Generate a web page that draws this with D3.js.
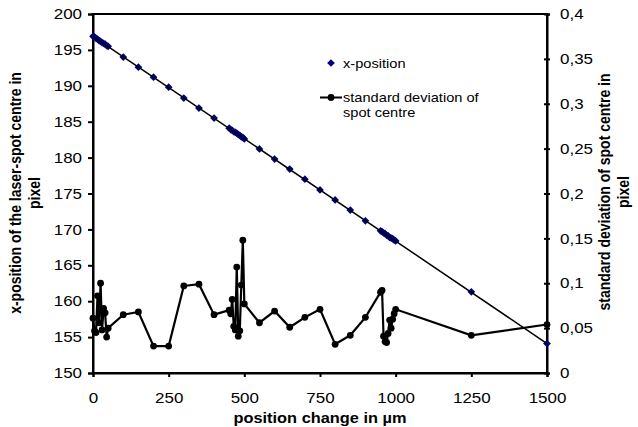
<!DOCTYPE html>
<html>
<head>
<meta charset="utf-8">
<script src="https://cdn.jsdelivr.net/npm/d3@7"></script>
<style>
  body { margin: 0; background: #fff; }
  svg { display: block; font-family: "Liberation Sans", Arial, sans-serif; }
</style>
</head>
<body>
<svg id="chart" width="638" height="427"></svg>
<script>
// position change in µm
const positions = [0, 5, 10, 15, 20, 25, 30, 35, 40, 45, 50, 100, 150, 200, 250, 300, 350, 400,
  450, 455, 460, 465, 470, 475, 480, 485, 490, 495, 500, 550, 600, 650, 700, 750, 800, 850, 900,
  950, 955, 960, 965, 970, 975, 980, 985, 990, 995, 1000, 1250, 1500];

// x-position of the laser-spot centre (left axis, pixel)
const xPosition = [196.9, 196.8, 196.6, 196.5, 196.3, 196.2, 196.0, 195.9, 195.8, 195.6, 195.5,
  194.0, 192.6, 191.2, 189.8, 188.3, 186.9, 185.5,
  184.1, 183.9, 183.8, 183.6, 183.5, 183.4, 183.2, 183.1, 182.9, 182.8, 182.6,
  181.2, 179.8, 178.4, 177.0, 175.5, 174.1, 172.7, 171.2,
  169.8, 169.7, 169.5, 169.4, 169.2, 169.1, 168.9, 168.8, 168.7, 168.5, 168.4, 161.3, 154.1];

// standard deviation of spot centre (right axis, pixel)
const stdDev = [0.061, 0.047, 0.045, 0.086, 0.056, 0.100, 0.048, 0.072, 0.067, 0.040, 0.050,
  0.065, 0.068, 0.030, 0.030, 0.097, 0.099, 0.065,
  0.070, 0.066, 0.082, 0.052, 0.048, 0.118, 0.041, 0.047, 0.098, 0.148, 0.077,
  0.056, 0.069, 0.051, 0.062, 0.071, 0.032, 0.042, 0.062,
  0.090, 0.092, 0.041, 0.035, 0.034, 0.044, 0.059, 0.050, 0.060, 0.066, 0.071, 0.042, 0.054];

// linear trendline through the x-position points
const trendX = [0, 1500];
const trendY = [196.9, 154.1];

const xTicks = [0, 250, 500, 750, 1000, 1250, 1500];
const leftTicks = [150, 155, 160, 165, 170, 175, 180, 185, 190, 195, 200];
const rightTicks = [0, 0.05, 0.1, 0.15, 0.2, 0.25, 0.3, 0.35, 0.4];
const rightTickLabels = ["0", "0,05", "0,1", "0,15", "0,2", "0,25", "0,3", "0,35", "0,4"];

const svg = d3.select("#chart");
const margin = { top: 14, right: 91, bottom: 54, left: 93 };
const width = +svg.attr("width") - margin.left - margin.right;
const height = +svg.attr("height") - margin.top - margin.bottom;
const SX = 1.17; // the original picture is a bit wider than tall

const x = d3.scaleLinear().domain([0, 1500]).range([margin.left, margin.left + width]);
const yL = d3.scaleLinear().domain([150, 200]).range([margin.top + height, margin.top]);
const yR = d3.scaleLinear().domain([0, 0.4]).range([margin.top + height, margin.top]);

// stretch horizontal text a little, like the source image
function stretch(sel) {
    sel.each(function () {
        const t = d3.select(this);
        const tx = +t.attr("x") || 0, ty = +t.attr("y") || 0;
        t.attr("x", 0).attr("y", 0).attr("transform", `translate(${tx},${ty}) scale(${SX},1)`);
    });
}

// frame
svg.append("rect")
    .attr("x", margin.left).attr("y", margin.top)
    .attr("width", width).attr("height", height)
    .attr("fill", "none").attr("stroke", "#000").attr("stroke-width", 2);

// axes
const gx = svg.append("g")
    .attr("transform", `translate(0,${margin.top + height})`)
    .call(d3.axisBottom(x).tickValues(xTicks).tickSize(4).tickPadding(16).tickFormat(d3.format("d")));

const gl = svg.append("g")
    .attr("transform", `translate(${margin.left},0)`)
    .call(d3.axisLeft(yL).tickValues(leftTicks).tickSize(5).tickPadding(6).tickFormat(d3.format("d")));

const gr = svg.append("g")
    .attr("transform", `translate(${margin.left + width},0)`)
    .call(d3.axisRight(yR).tickValues(rightTicks).tickSize(3).tickPadding(10)
        .tickFormat((d, i) => rightTickLabels[i]));
gr.selectAll(".tick line").attr("x1", -3);

[gx, gl, gr].forEach(g => {
    g.select(".domain").attr("stroke-width", 2);
    g.selectAll(".tick line").attr("stroke-width", 2);
    g.selectAll("text").attr("font-size", 14.5).attr("fill", "#000")
        .style("font-family", "'Liberation Sans', Arial, sans-serif");
    stretch(g.selectAll("text"));
});

// x-position diamonds
svg.append("g").selectAll("path")
    .data(positions)
    .join("path")
    .attr("d", d3.symbol(d3.symbolSquare, 30))
    .attr("transform", (d, i) => `translate(${x(d)},${yL(xPosition[i])}) rotate(45)`)
    .attr("fill", "#000080");

// trendline
svg.append("line")
    .attr("x1", x(trendX[0])).attr("y1", yL(trendY[0]))
    .attr("x2", x(trendX[1])).attr("y2", yL(trendY[1]))
    .attr("stroke", "#000").attr("stroke-width", 1.5);

// standard deviation line + markers
const line = d3.line().x((d, i) => x(positions[i])).y(d => yR(d));
svg.append("path")
    .datum(stdDev)
    .attr("d", line)
    .attr("fill", "none").attr("stroke", "#000").attr("stroke-width", 2.2);

svg.append("g").selectAll("circle")
    .data(stdDev)
    .join("circle")
    .attr("cx", (d, i) => x(positions[i]))
    .attr("cy", d => yR(d))
    .attr("r", 3.4)
    .attr("fill", "#000");

// legend
const legend = svg.append("g");
legend.append("path")
    .attr("d", d3.symbol(d3.symbolSquare, 30))
    .attr("transform", "translate(331,63) rotate(45)")
    .attr("fill", "#000080");
legend.append("text").attr("x", 343).attr("y", 67.5).text("x-position");
legend.append("line")
    .attr("x1", 320).attr("x2", 342).attr("y1", 97.5).attr("y2", 97.5)
    .attr("stroke", "#000").attr("stroke-width", 2);
legend.append("circle").attr("cx", 331).attr("cy", 97.5).attr("r", 3.4).attr("fill", "#000");
legend.append("text").attr("x", 343).attr("y", 102).text("standard deviation of");
legend.append("text").attr("x", 343).attr("y", 117).text("spot centre");
legend.selectAll("text").attr("font-size", 12.5).attr("fill", "#000");
stretch(legend.selectAll("text"));

// axis titles
svg.append("text")
    .attr("transform", `translate(320,423) scale(${SX},1)`)
    .attr("text-anchor", "middle")
    .attr("font-size", 14).attr("font-weight", "bold")
    .text("position change in µm");

const leftTitle = svg.append("text")
    .attr("transform", `translate(21,193) rotate(-90) scale(1,${SX})`)
    .attr("text-anchor", "middle").attr("font-size", 14).attr("font-weight", "bold");
leftTitle.append("tspan").attr("x", 0).attr("y", 0).text("x-position of the laser-spot centre in");
leftTitle.append("tspan").attr("x", 0).attr("y", 16).text("pixel");

const rightTitle = svg.append("text")
    .attr("transform", `translate(610,192) rotate(-90) scale(1,${SX})`)
    .attr("text-anchor", "middle").attr("font-size", 14).attr("font-weight", "bold");
rightTitle.append("tspan").attr("x", 0).attr("y", 0).text("standard deviation of spot centre in");
rightTitle.append("tspan").attr("x", 0).attr("y", 16).text("pixel");
</script>
</body>
</html>
